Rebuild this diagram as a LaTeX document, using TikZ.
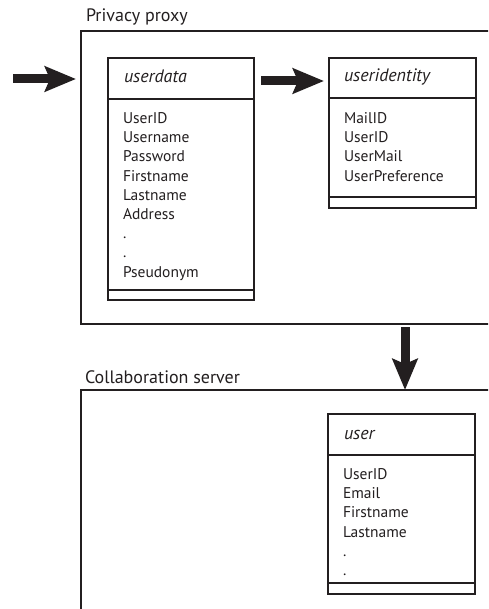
\documentclass[tikz,border=0pt]{standalone}
\usepackage{fontspec}
\setmainfont{PT Sans}
\usetikzlibrary{arrows.meta}
\definecolor{ink}{HTML}{231F20}
\begin{document}
\begin{tikzpicture}[x=1pt,y=-1pt,
  every node/.style={inner sep=0pt,outer sep=0pt,text=ink},
  container/.style={draw=ink,line width=1.1pt},
  classbox/.style={draw=ink,line width=1.3pt},
  attr/.style={anchor=base west,font=\fontsize{15.5}{18}\selectfont},
  ctitle/.style={anchor=base west,font=\fontsize{18}{21}\selectfont\itshape},
  grouplabel/.style={anchor=base west,font=\fontsize{18}{21}\selectfont},
  bigarrow/.style={draw=ink,line width=9pt,-{Stealth[length=31pt,width=25pt,inset=5pt]}},
]
\clip (0,0) rectangle (488,609);
\fill[white] (0,0) rectangle (488,609);

% containers
\node[container,anchor=north west,minimum width=419pt,minimum height=293pt] (proxy) at (81,31) {};
\node[container,anchor=north west,minimum width=419pt,minimum height=230pt] (collab) at (81,390) {};
\node[grouplabel] (proxylabel) at (86,22) {Privacy proxy};
\node[grouplabel] (collablabel) at (85,383) {Collaboration server};

% class userdata
\node[classbox,anchor=north west,minimum width=146pt,minimum height=242pt] (ud) at (108,58) {};
\draw[classbox] ([yshift=-41pt]ud.north west) -- ([yshift=-41pt]ud.north east);
\draw[classbox] ([yshift=10pt]ud.south west) -- ([yshift=10pt]ud.south east);
\node[ctitle] (udt) at (124,82.5) {userdata};
\foreach \t [count=\i from 0] in {UserID,Username,Password,Firstname,Lastname,Address,.,.,Pseudonym}
  \node[attr] (ud\i) at (123,{123.5+19.2*\i}) {\t};

% class useridentity
\node[classbox,anchor=north west,minimum width=147pt,minimum height=150pt] (uid) at (329,58) {};
\draw[classbox] ([yshift=-40pt]uid.north west) -- ([yshift=-40pt]uid.north east);
\draw[classbox] ([yshift=11pt]uid.south west) -- ([yshift=11pt]uid.south east);
\node[ctitle] (uidt) at (344,82) {useridentity};
\foreach \t [count=\i from 0] in {MailID,UserID,UserMail,UserPreference}
  \node[attr] (uid\i) at (344,{123.3+19.3*\i}) {\t};

% class user
\node[classbox,anchor=north west,minimum width=147pt,minimum height=180pt] (us) at (328,414) {};
\draw[classbox] ([yshift=-41pt]us.north west) -- ([yshift=-41pt]us.north east);
\draw[classbox] ([yshift=11pt]us.south west) -- ([yshift=11pt]us.south east);
\node[ctitle] (ust) at (344,439) {user};
\foreach \t [count=\i from 0] in {UserID,Email,Firstname,Lastname,.,.}
  \node[attr] (us\i) at (343,{479.5+19.2*\i}) {\t};

% arrows
\coordinate (inflow) at (13,79);
\draw[bigarrow,shorten >=5pt] (inflow) -- (inflow -| proxy.west);
\coordinate (mid) at (0,81);
\draw[bigarrow,shorten <=7pt,shorten >=5pt] (mid -| ud.east) -- (mid -| uid.west);
\coordinate (down) at (405,0);
\draw[bigarrow,shorten <=3pt] (down |- proxy.south) -- (down |- collab.north);
\end{tikzpicture}
\end{document}
